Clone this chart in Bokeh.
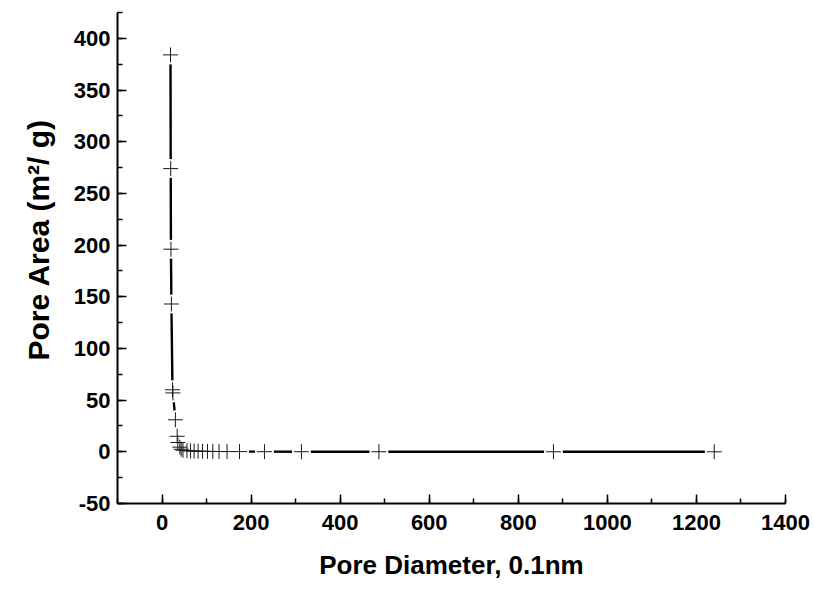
from bokeh.plotting import figure
from bokeh.models import (SingleIntervalTicker, ColumnDataSource, Range1d,
                          PrintfTickFormatter, Title)
from bokeh.embed import file_html
from bokeh.resources import INLINE

# BJH pore area distribution (diameter in 0.1 nm units, area in m2/g)
pore_diameter = [19, 19.5, 20, 21, 23.5, 24.5, 30, 34, 35.5, 40, 43, 47,
                 56, 64, 72, 81, 91, 102, 114, 128, 146, 174, 230, 313,
                 487, 879, 1240]
pore_area = [384, 274, 196, 143, 60, 57, 31, 15, 9, 4.5, 2.5, 1.5,
             1.1, 0.9, 0.75, 0.6, 0.5, 0.42, 0.35, 0.3, 0.25, 0.2, 0.15,
             0.12, 0.08, 0.05, 0.03]

x_title = "Pore Diameter, 0.1nm"
y_title = "Pore Area (m²/ g)"

src = ColumnDataSource(data=dict(d=pore_diameter, a=pore_area))

FONT = "Liberation Sans"

p = figure(width=814, height=589, output_backend="svg", toolbar_location=None,
           x_range=Range1d(-100, 1400), y_range=Range1d(-50, 425),
           min_border_left=117, min_border_right=29,
           min_border_top=12, min_border_bottom=86)
p.outline_line_color = None
p.xgrid.visible = False
p.ygrid.visible = False
p.background_fill_color = "white"
p.border_fill_color = "white"

# connecting line, broken around every symbol
p.line("d", "a", source=src, line_color="black", line_width=2.4)
p.scatter("d", "a", source=src, marker="circle", size=19,
          fill_color="white", line_color=None)
p.scatter("d", "a", source=src, marker="cross", size=15,
          line_color="#1a1a1a", line_width=1, fill_color=None)

p.xaxis.ticker = SingleIntervalTicker(interval=200, num_minor_ticks=2)
p.yaxis.ticker = SingleIntervalTicker(interval=50, num_minor_ticks=2)
p.xaxis.formatter = PrintfTickFormatter(format="%d")
p.yaxis.formatter = PrintfTickFormatter(format="%d")

for ax in (p.xaxis[0], p.yaxis[0]):
    ax.axis_line_width = 2
    ax.axis_line_color = "black"
    ax.major_tick_in = 9
    ax.major_tick_out = 0
    ax.minor_tick_in = 5
    ax.minor_tick_out = 0
    ax.major_tick_line_width = 1.5
    ax.minor_tick_line_width = 1.5
    ax.major_label_text_font = FONT
    ax.major_label_text_font_style = "bold"
    ax.major_label_text_font_size = "22px"
    ax.major_label_text_color = "black"
    ax.axis_label_text_font = FONT
    ax.axis_label_text_font_style = "bold"
    ax.axis_label_text_font_size = "26px"
    ax.axis_label_text_color = "black"

p.xaxis.axis_label = x_title
p.xaxis.major_label_standoff = 11
p.yaxis.major_label_standoff = 7
p.xaxis.axis_label_standoff = 17

# vertical title beside the value axis, starting above the frame bottom
p.add_layout(Title(text=y_title, align="left", offset=143, standoff=32,
                   text_font=FONT, text_font_style="bold",
                   text_font_size="30px", text_color="black"), "left")

open("out.html", "w").write(file_html(p, INLINE))
